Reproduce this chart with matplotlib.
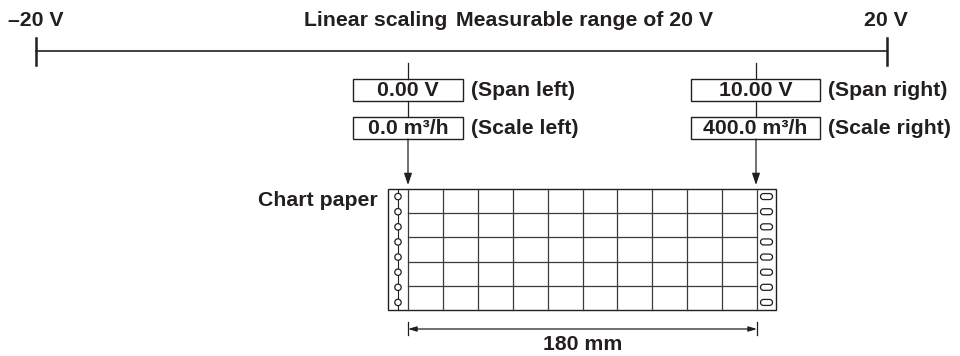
import matplotlib.pyplot as plt
from matplotlib.patches import Rectangle, Circle, FancyBboxPatch

plt.rcParams['font.family'] = ['Liberation Sans', 'DejaVu Sans']

# данные схемы
range_labels = ['–20 V', '20 V']
title_left = 'Linear scaling'
title_right = 'Measurable range of 20 V'
span_values = ['0.00 V', '10.00 V']
span_names = ['(Span left)', '(Span right)']
scale_values = ['0.0 m³/h', '400.0 m³/h']
scale_names = ['(Scale left)', '(Scale right)']
paper_width = '180 mm'
grid_cols = 10
grid_rows = 5
holes = 8

ink = '#231f20'
fs = 15.3

# раскладка в пикселях
top_y = 51
x_min, x_max = 36, 887
arrow_x = [408, 756]
box_l = [(353, 463), (691, 820)]
paper = dict(x0=388, x1=776, y0=189, y1=310, gl=408, gr=757)

fig = plt.figure(figsize=(9.6, 3.56), dpi=100)
ax = fig.add_axes([0, 0, 1, 1])
ax.set_xlim(0, 960)
ax.set_ylim(356, 0)
ax.axis('off')

# шкала диапазона
ax.plot([x_min, x_max], [top_y, top_y], color=ink, lw=1.2)
for x in (x_min, x_max):
    ax.plot([x, x], [38, 65], color=ink, lw=1.8)
ax.text(8, 20, range_labels[0], fontsize=fs, fontweight='bold', color=ink, ha='left', va='center')
ax.text(x_max - 1, 20, range_labels[1], fontsize=fs, fontweight='bold', color=ink, ha='center', va='center')
ax.text(447, 20, title_left, fontsize=fs, fontweight='bold', color=ink, ha='right', va='center')
ax.text(456, 20, title_right, fontsize=fs, fontweight='bold', color=ink, ha='left', va='center')

# блоки span / scale
for i in range(2):
    x = arrow_x[i]
    bx0, bx1 = box_l[i]
    ax.plot([x, x], [63, 79], color=ink, lw=0.9)
    ax.plot([x, x], [101, 117], color=ink, lw=0.9)
    for (y0, y1), val, name in [((79, 101), span_values[i], span_names[i]),
                                ((117, 139), scale_values[i], scale_names[i])]:
        ax.add_patch(Rectangle((bx0, y0), bx1 - bx0, y1 - y0, fill=False, ec=ink, lw=1.0))
        ax.text((bx0 + bx1) / 2, (y0 + y1) / 2 + 1, val, fontsize=fs, fontweight='bold',
                color=ink, ha='center', va='center')
        ax.text(bx1 + 8, (y0 + y1) / 2 + 1, name, fontsize=fs, fontweight='bold',
                color=ink, ha='left', va='center')
    ax.annotate('', xy=(x, 185), xytext=(x, 139),
                arrowprops=dict(arrowstyle='-|>,head_length=0.5,head_width=0.17',
                                mutation_scale=14, lw=0.9, color=ink,
                                shrinkA=0, shrinkB=0))

# диаграммная бумага
ax.add_patch(Rectangle((paper['x0'], paper['y0']), paper['x1'] - paper['x0'],
                       paper['y1'] - paper['y0'], fill=False, ec=ink, lw=1.0))
col_w = (paper['gr'] - paper['gl']) / grid_cols
for c in range(grid_cols + 1):
    x = paper['gl'] + c * col_w
    ax.plot([x, x], [paper['y0'], paper['y1']], color='#3a3a3a', lw=0.9)
row_h = (paper['y1'] - paper['y0']) / grid_rows
for r in range(1, grid_rows):
    y = paper['y0'] + r * row_h
    ax.plot([paper['gl'], paper['gr']], [y, y], color='#3a3a3a', lw=0.9)

hole_step = (paper['y1'] - paper['y0']) / holes
hx = (paper['x0'] + paper['gl']) / 2
ax.plot([hx, hx], [paper['y0'], paper['y1']], color=ink, lw=0.8)
for k in range(holes):
    y = paper['y0'] + hole_step * (k + 0.5)
    ax.add_patch(Circle((hx, y), 3.2, fc='white', ec=ink, lw=0.9, zorder=3))
    ox = (paper['gr'] + paper['x1']) / 2
    ax.add_patch(FancyBboxPatch((ox - 6, y - 3), 12, 6,
                                boxstyle='round,pad=0,rounding_size=3',
                                fc='white', ec=ink, lw=0.9))
ax.text(378, 200, 'Chart paper', fontsize=fs, fontweight='bold', color=ink, ha='right', va='center')

# размер 180 мм
for x in (paper['gl'], paper['gr']):
    ax.plot([x, x], [322, 335], color=ink, lw=0.9)
ax.annotate('', xy=(paper['gl'], 329), xytext=(paper['gr'], 329),
            arrowprops=dict(arrowstyle='<|-|>,head_length=0.5,head_width=0.15',
                            mutation_scale=10, lw=0.9, color=ink,
                            shrinkA=0, shrinkB=0))
ax.text((paper['gl'] + paper['gr']) / 2, 345, paper_width, fontsize=fs, fontweight='bold',
        color=ink, ha='center', va='center')

fig.savefig('out.png', dpi=100)
